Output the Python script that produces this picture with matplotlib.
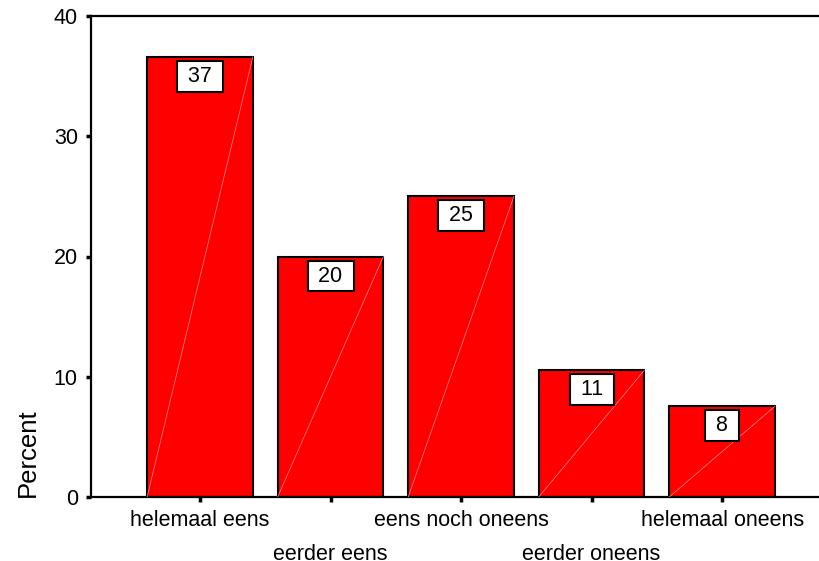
import matplotlib.pyplot as plt

plt.rcParams['font.family'] = ['Liberation Sans', 'DejaVu Sans']

categories = ['helemaal eens', 'eerder eens', 'eens noch oneens',
              'eerder oneens', 'helemaal oneens']
percent = [36.6, 20.0, 25.0, 10.55, 7.55]
y_ticks = [0, 10, 20, 30, 40]

fig = plt.figure(figsize=(8.2, 5.61), dpi=100)
ax = fig.add_axes([91 / 820, 64 / 561, 729 / 820, 481 / 561])

x = list(range(len(categories)))
width = 0.81
bars = ax.bar(x, percent, width=width, color='#ff0000',
              edgecolor='black', linewidth=1.5, zorder=2)

# Faint diagonal running through each bar.
for xi, h in zip(x, percent):
    ax.plot([xi - width / 2, xi + width / 2], [0, h], color='#ff9090',
            linewidth=0.5, zorder=3)

# Value boxes hanging just below the top of each bar.
for xi, h in zip(x, percent):
    ax.annotate(f' {h:.0f} ', xy=(xi, h), xytext=(0, -6.5),
                textcoords='offset points', ha='center', va='top',
                fontsize=15.5, zorder=4,
                bbox=dict(boxstyle='square,pad=0.23', facecolor='white',
                          edgecolor='black', linewidth=1.5))

ax.set_xlim(-0.835, 4.75)
ax.set_ylim(0, 40)
ax.set_yticks(y_ticks)
ax.set_xticks(x)
ax.set_xticklabels(categories, fontsize=15.5)
ax.tick_params(axis='y', labelsize=15.5, pad=6)
ax.tick_params(direction='out', length=3.5, width=2.5, color='black')

# Stagger the category labels on two rows.
for i, tick in enumerate(ax.xaxis.get_major_ticks()):
    tick.set_pad(6 if i % 2 == 0 else 30)

ax.spines['right'].set_visible(False)
for side in ['left', 'bottom', 'top']:
    ax.spines[side].set_linewidth(1.6)

ax.set_ylabel('Percent', fontsize=18.5, loc='bottom', labelpad=10)

fig.savefig('out.png', dpi=100)
